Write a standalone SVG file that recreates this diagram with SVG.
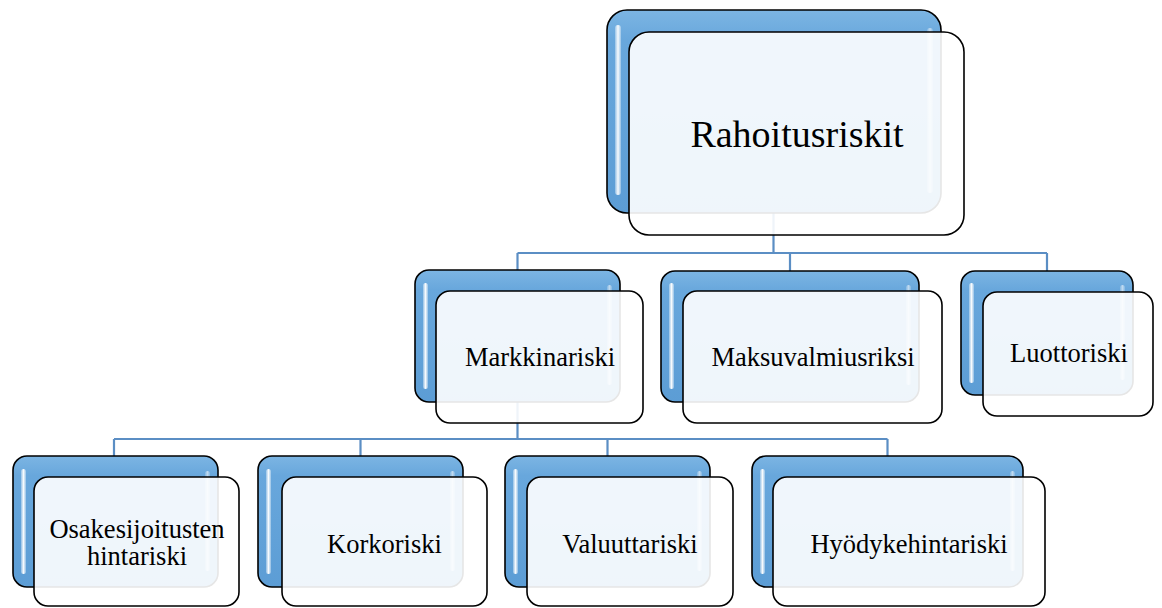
<svg xmlns="http://www.w3.org/2000/svg" width="1162" height="608" viewBox="0 0 1162 608">
<defs>
<linearGradient id="blue" x1="0" y1="0" x2="0" y2="1">
<stop offset="0" stop-color="#7cb5e3"/>
<stop offset="0.15" stop-color="#68a7dc"/>
<stop offset="1" stop-color="#5c9dd5"/>
</linearGradient>
<linearGradient id="hl" x1="0" y1="0" x2="1" y2="0">
<stop offset="0" stop-color="#ffffff" stop-opacity="0.3"/>
<stop offset="0.5" stop-color="#ffffff" stop-opacity="0.95"/>
<stop offset="1" stop-color="#ffffff" stop-opacity="0.3"/>
</linearGradient>
</defs>
<style>
.back{fill:url(#blue);stroke:#000;stroke-width:1.6}
.front{fill:#ffffff;fill-opacity:0.9;stroke:#000;stroke-width:1.6}
.hl{fill:url(#hl)}
.hr{fill:url(#hl);opacity:0.6}
.conn{fill:none;stroke:#5b8ec4;stroke-width:2.2}
.lbl{font-family:'Liberation Serif','Times New Roman',Times,serif;fill:#000;text-anchor:middle}
.t1{font-size:38px}
.t2{font-size:26.5px}
</style>
<rect width="1162" height="608" fill="#fff"/>
<g id="connectors">
<path class="conn" d="M773.5 213 V253 M517.5 253 H1047 M517.5 253 V270 M790 253 V271 M1047 253 V271"/>
<path class="conn" d="M517.5 402 V439 M114 439 H887.5 M114 439 V456 M360.5 439 V456 M607.5 439 V456 M887.5 439 V456"/>
</g>
<g id="rahoitusriskit">
<rect class="back" x="607" y="10" width="334" height="203" rx="20"/>
<rect class="hl" x="615" y="25" width="6" height="170" rx="3"/>
<rect class="hr" x="927" y="28" width="6" height="165" rx="3"/>
<rect class="front" x="629" y="32" width="335" height="203" rx="20"/>
<text class="lbl t1" font-family="Liberation Serif, serif" x="797" y="147">Rahoitusriskit</text>
</g>
<g id="markkinariski">
<rect class="back" x="415" y="270" width="205" height="132" rx="14"/>
<rect class="hl" x="423" y="283" width="5" height="106" rx="2.5"/>
<rect class="hr" x="607" y="285" width="5" height="100" rx="2.5"/>
<rect class="front" x="436" y="291" width="207" height="132" rx="14"/>
<text class="lbl t2" font-family="Liberation Serif, serif" x="540" y="366">Markkinariski</text>
</g>
<g id="maksuvalmiusriksi">
<rect class="back" x="661" y="271" width="258" height="131" rx="14"/>
<rect class="hl" x="669" y="283" width="5" height="106" rx="2.5"/>
<rect class="hr" x="906" y="285" width="5" height="100" rx="2.5"/>
<rect class="front" x="683" y="291" width="259" height="132" rx="14"/>
<text class="lbl t2" font-family="Liberation Serif, serif" x="813" y="366">Maksuvalmiusriksi</text>
</g>
<g id="luottoriski">
<rect class="back" x="961" y="271" width="172" height="124" rx="14"/>
<rect class="hl" x="969" y="283" width="5" height="100" rx="2.5"/>
<rect class="hr" x="1120" y="285" width="5" height="95" rx="2.5"/>
<rect class="front" x="983" y="292" width="170" height="124" rx="14"/>
<text class="lbl t2" font-family="Liberation Serif, serif" x="1069" y="362">Luottoriski</text>
</g>
<g id="osakesijoitusten">
<rect class="back" x="13" y="456" width="205" height="131" rx="14"/>
<rect class="hl" x="21" y="469" width="5" height="105" rx="2.5"/>
<rect class="hr" x="205" y="471" width="5" height="100" rx="2.5"/>
<rect class="front" x="34" y="477" width="205" height="129" rx="14"/>
<text class="lbl t2" font-family="Liberation Serif, serif" x="137" y="538">Osakesijoitusten</text>
<text class="lbl t2" font-family="Liberation Serif, serif" x="137" y="565">hintariski</text>
</g>
<g id="korkoriski">
<rect class="back" x="258" y="456" width="205" height="131" rx="14"/>
<rect class="hl" x="266" y="469" width="5" height="105" rx="2.5"/>
<rect class="hr" x="450" y="471" width="5" height="100" rx="2.5"/>
<rect class="front" x="282" y="477" width="205" height="129" rx="14"/>
<text class="lbl t2" font-family="Liberation Serif, serif" x="384.5" y="553">Korkoriski</text>
</g>
<g id="valuuttariski">
<rect class="back" x="505" y="456" width="205" height="131" rx="14"/>
<rect class="hl" x="513" y="469" width="5" height="105" rx="2.5"/>
<rect class="hr" x="697" y="471" width="5" height="100" rx="2.5"/>
<rect class="front" x="527" y="477" width="206" height="129" rx="14"/>
<text class="lbl t2" font-family="Liberation Serif, serif" x="630" y="553">Valuuttariski</text>
</g>
<g id="hyodykehintariski">
<rect class="back" x="752" y="456" width="271" height="131" rx="14"/>
<rect class="hl" x="760" y="469" width="5" height="105" rx="2.5"/>
<rect class="hr" x="1010" y="471" width="5" height="100" rx="2.5"/>
<rect class="front" x="773" y="477" width="272" height="129" rx="14"/>
<text class="lbl t2" font-family="Liberation Serif, serif" x="909" y="553">Hyödykehintariski</text>
</g>
</svg>
